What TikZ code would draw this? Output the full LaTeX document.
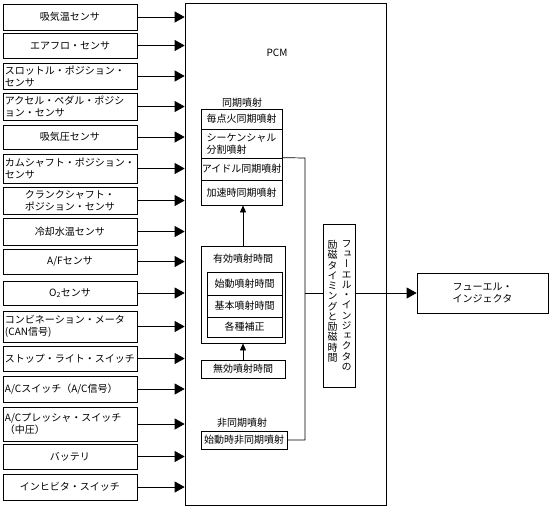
\documentclass[tikz,border=0pt]{standalone}
\usepackage{fontspec}
\setmainfont{Noto Sans CJK JP}
\newfontfamily\vjp[RawFeature=+vert]{Noto Sans CJK JP}
\usetikzlibrary{arrows.meta}
\begin{document}
\begin{tikzpicture}[x=1pt, y=-1pt, line width=0.7pt,
  font=\fontsize{10}{12}\selectfont,
  >={Triangle[length=10pt, width=11pt]},
  sensor/.style={draw, text width=130pt, inner xsep=2pt, inner ysep=0pt, align=center},
  sensorl/.style={sensor, align=left},
  cell/.style={draw, inner sep=0pt, align=center},
  vtext/.style={inner sep=0pt, align=center, font=\vjp\fontsize{10}{10.25}\selectfont},
  small/.style={-{Triangle[length=7pt, width=6pt]}}]
  \useasboundingbox (0,0) rectangle (551,509);
  % Sensors on the left
  \node[sensor, minimum height=26pt] (s1) at (70,17) {吸気温センサ};
  \node[sensor, minimum height=25pt] (s2) at (70,45.5) {エアフロ・センサ};
  \node[sensorl, minimum height=26pt] (s3) at (70,76) {スロットル・ポジション・\\センサ};
  \node[sensorl, minimum height=27pt] (s4) at (70,106.5) {アクセル・ペダル・ポジシ\\ョン・センサ};
  \node[sensor, minimum height=24pt] (s5) at (70,137) {吸気圧センサ};
  \node[sensorl, minimum height=29pt] (s6) at (70,168.5) {カムシャフト・ポジション・\\センサ};
  \node[sensor, minimum height=27pt] (s7) at (70,200.5) {クランクシャフト・\\ポジション・センサ};
  \node[sensor, minimum height=27pt] (s8) at (70,231.5) {冷却水温センサ};
  \node[sensor, minimum height=25pt] (s9) at (70,261.5) {A/Fセンサ};
  \node[sensor, minimum height=24pt] (s10) at (70,293) {O\textsubscript{2}センサ};
  \node[sensorl, minimum height=31pt] (s11) at (70,326.5) {コンビネーション・メータ\\(CAN信号)};
  \node[sensor, minimum height=25pt] (s12) at (70,358.5) {ストップ・ライト・スイッチ};
  \node[sensorl, minimum height=26pt] (s13) at (70,389) {A/Cスイッチ（A/C信号）};
  \node[sensorl, minimum height=34pt] (s14) at (70,424) {A/Cプレッシャ・スイッチ\\（中圧）};
  \node[sensor, minimum height=25pt] (s15) at (70,456.5) {バッテリ};
  \node[sensor, minimum height=26pt] (s16) at (70,487) {インヒビタ・スイッチ};
  % PCM
  \node[draw, minimum width=201pt, minimum height=502pt, inner sep=0pt] (pcm) at (285.5,254) {};
  \node (pcmlabel) at (277,53) {PCM};
  \foreach \i in {1,...,16}
    \draw[->] (s\i.east) -- (s\i.east -| pcm.west);
  % Synchronous injection
  \node (synlabel) at (242,103) {同期噴射};
  \node[cell, minimum width=81pt, minimum height=20pt] (sy1) at (241.5,119) {毎点火同期噴射};
  \node[cell, minimum width=81pt, minimum height=29pt, align=left] (sy2) at (241.5,143.5) {シーケンシャル\\分割噴射};
  \node[cell, minimum width=81pt, minimum height=22pt] (sy3) at (241.5,169) {アイドル同期噴射};
  \node[cell, minimum width=81pt, minimum height=25pt] (sy4) at (241.5,192.5) {加速時同期噴射};
  % Effective injection time
  \node[cell, minimum width=84pt, minimum height=97pt] (ef) at (243,294.5) {};
  \node (eflabel) at (243,259) {有効噴射時間};
  \node[cell, minimum width=75pt, minimum height=23pt] (ef1) at (244.5,283.5) {始動噴射時間};
  \node[cell, minimum width=75pt, minimum height=22pt] (ef2) at (244.5,306) {基本噴射時間};
  \node[cell, minimum width=75pt, minimum height=20pt] (ef3) at (244.5,327) {各種補正};
  \node[cell, minimum width=84pt, minimum height=18pt] (inv) at (243,369) {無効噴射時間};
  \draw[small] (ef.north) -- (ef.north |- sy4.south);
  \draw[small] (inv.north) -- (inv.north |- ef.south);
  % Asynchronous injection
  \node (asylabel) at (242,423) {非同期噴射};
  \node[cell, minimum width=86pt, minimum height=18pt] (asy) at (244,440) {始動時非同期噴射};
  % Bus to the excitation box
  \coordinate (busT) at (305,158);
  \coordinate (busB) at (305,440);
  \draw (sy3.north east) -- (busT) -- (busB) -- (asy.east);
  \node[draw, minimum width=32pt, minimum height=163pt, inner sep=0pt] (fi) at (339,305.5) {};
  \node[vtext, anchor=north] (fiR) at (346.5,240) {フ\\ュ\\ー\\エ\\ル\\・\\イ\\ン\\ジ\\ェ\\ク\\タ\\の};
  \node[vtext, anchor=north] (fiL) at (332.5,240) {励\\磁\\タ\\イ\\ミ\\ン\\グ\\と\\励\\磁\\時\\間};
  % Fuel injector
  \node[draw, minimum width=131pt, minimum height=40pt, inner sep=0pt, align=center] (inj) at (482.5,293) {フューエル・\\インジェクタ};
  \draw (inj.west -| busT) -- (inj.west -| fi.west);
  \draw[->] (inj.west -| fi.east) -- (inj.west);
\end{tikzpicture}
\end{document}
